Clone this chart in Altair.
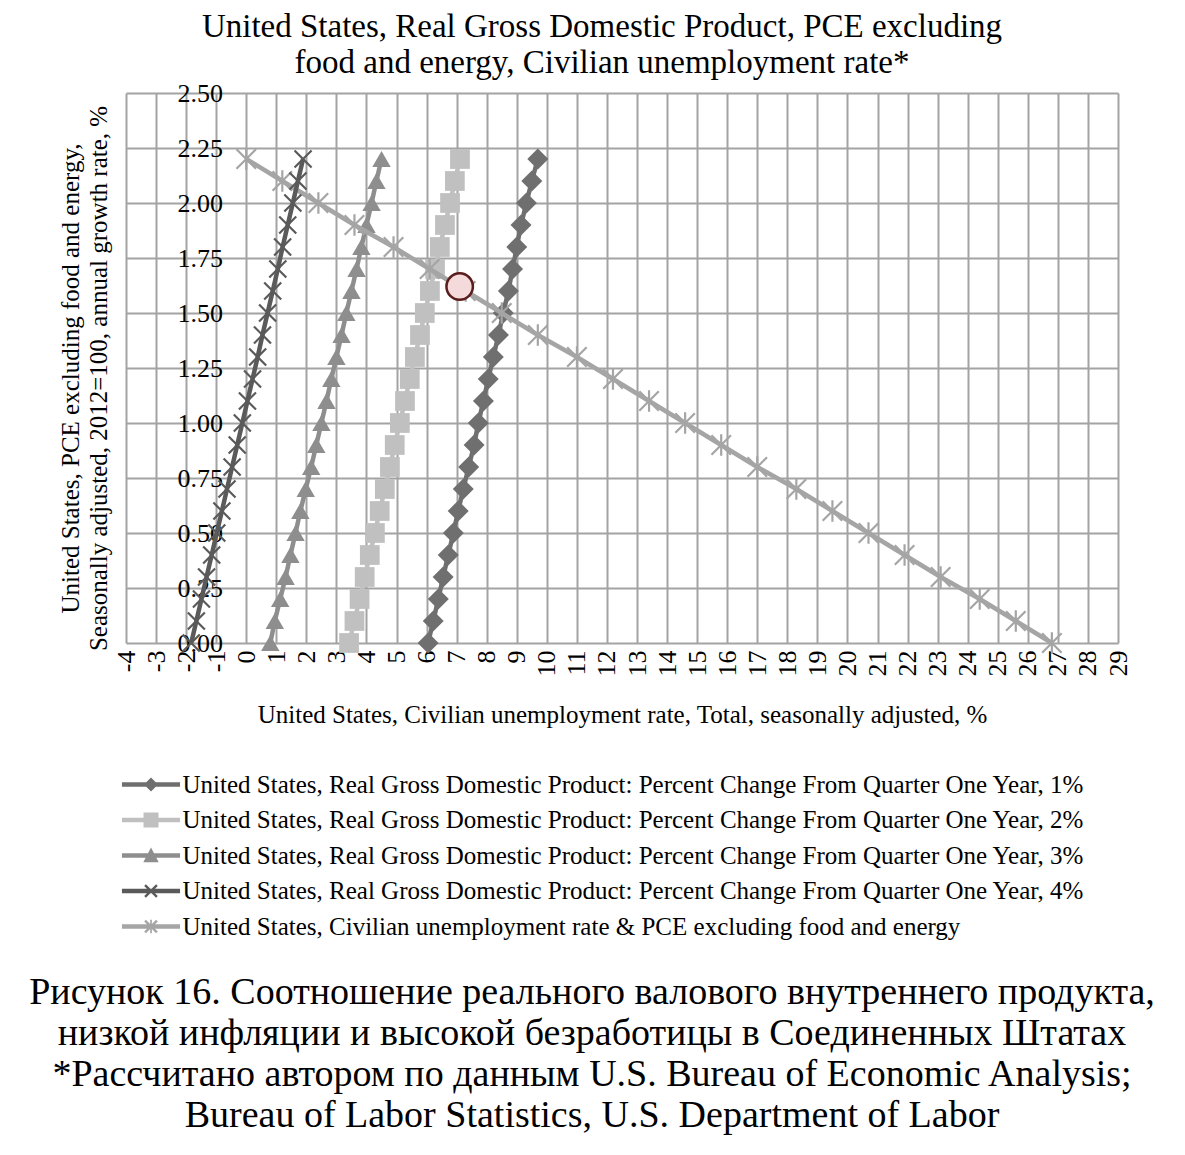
import altair as alt
import pandas as pd

# ---------------- data ----------------
Y_LEVELS = [0.0, 0.1, 0.2, 0.3, 0.4, 0.5, 0.6, 0.7, 0.8, 0.9, 1.0, 1.1,
            1.2, 1.3, 1.4, 1.5, 1.6, 1.7, 1.8, 1.9, 2.0, 2.1, 2.2]

GDP_1 = [6.05, 6.22, 6.39, 6.55, 6.72, 6.89, 7.05, 7.22, 7.40, 7.58, 7.72, 7.89,
         8.05, 8.22, 8.39, 8.55, 8.72, 8.86, 9.00, 9.14, 9.32, 9.50, 9.70]
GDP_2 = [3.42, 3.60, 3.77, 3.94, 4.11, 4.28, 4.44, 4.61, 4.78, 4.94, 5.11, 5.28,
         5.44, 5.61, 5.78, 5.94, 6.11, 6.28, 6.44, 6.61, 6.78, 6.94, 7.11]
GDP_3 = [0.80, 0.95, 1.13, 1.31, 1.47, 1.64, 1.80, 1.98, 2.16, 2.33, 2.50, 2.67,
         2.83, 3.00, 3.17, 3.33, 3.50, 3.67, 3.83, 4.00, 4.17, 4.33, 4.50]
GDP_4 = [-1.83, -1.66, -1.49, -1.32, -1.15, -0.98, -0.81, -0.64, -0.47, -0.30, -0.13, 0.04,
         0.21, 0.38, 0.54, 0.71, 0.88, 1.05, 1.21, 1.38, 1.55, 1.72, 1.89]
CIVILIAN = [26.8, 25.6, 24.4, 23.1, 21.9, 20.7, 19.5, 18.3, 17.0, 15.8, 14.6, 13.4,
            12.2, 11.0, 9.7, 8.5, 7.3, 6.1, 4.9, 3.6, 2.4, 1.2, 0.0]

MARK_X = [7.1]
MARK_Y = [1.62]

SERIES = [
    "United States, Real Gross Domestic Product: Percent Change From Quarter One Year, 1%",
    "United States, Real Gross Domestic Product: Percent Change From Quarter One Year, 2%",
    "United States, Real Gross Domestic Product: Percent Change From Quarter One Year, 3%",
    "United States, Real Gross Domestic Product: Percent Change From Quarter One Year, 4%",
    "United States, Civilian unemployment rate & PCE excluding food and energy",
]
COLORS = ["#6f6f6f", "#c0c0c0", "#8e8e8e", "#5a5a5a", "#a5a5a5"]

X_TICKS = list(range(-4, 30))
Y_TICKS = [0.0, 0.25, 0.5, 0.75, 1.0, 1.25, 1.5, 1.75, 2.0, 2.25, 2.5]

TITLE_LINES = ["United States, Real Gross Domestic Product, PCE excluding",
               "food and energy, Civilian unemployment rate*"]
X_TITLE = "United States, Civilian unemployment rate, Total, seasonally adjusted, %"
Y_TITLE = ["United States, PCE excluding food and energy,",
           "Seasonally adjusted, 2012=100, annual growth rate, %"]
CAPTION_LINES = [
    "Рисунок 16. Соотношение реального валового внутреннего продукта,",
    "низкой инфляции и высокой безработицы в Соединенных Штатах",
    "*Рассчитано автором по данным U.S. Bureau of Economic Analysis;",
    "Bureau of Labor Statistics, U.S. Department of Labor",
]

FONT = "Liberation Serif"

# ---------------- legend symbol paths (line + marker) ----------------
LINE = "M-4.15,-0.33L4.15,-0.33L4.15,0.33L-4.15,0.33Z"
XPATH = ("M-0.97,-0.73L-0.73,-0.97L0.97,0.73L0.73,0.97Z"
         "M-0.73,0.97L-0.97,0.73L0.73,-0.97L0.97,-0.73Z")
LEGEND_PATHS = [
    LINE + "M0,-1L1,0L0,1L-1,0Z",
    LINE + "M-1.07,-1.07L1.07,-1.07L1.07,1.07L-1.07,1.07Z",
    LINE + "M0,-1.15L1.1,0.95L-1.1,0.95Z",
    LINE + XPATH,
    LINE + XPATH + "M-0.12,-0.95L0.12,-0.95L0.12,0.95L-0.12,0.95Z",
]

X_MARK_SHAPE = "M-1,-1L1,1M-1,1L1,-1"
STAR_SHAPE = "M-1,-1L1,1M-1,1L1,-1M0,-1.1L0,1.1"


def frame(xs, name):
    return pd.DataFrame({"u": xs, "p": Y_LEVELS, "series": name})


d1 = frame(GDP_1, SERIES[0])
d2 = frame(GDP_2, SERIES[1])
d3 = frame(GDP_3, SERIES[2])
d4 = frame(GDP_4, SERIES[3])
d5 = frame(CIVILIAN, SERIES[4])
legend_df = pd.concat([d.iloc[[0]] for d in (d1, d2, d3, d4, d5)], ignore_index=True)
mark_df = pd.DataFrame({"u": MARK_X, "p": MARK_Y})
caption_df = pd.DataFrame({"caption": ["\n".join(CAPTION_LINES)]})

# ---------------- scales / axes ----------------
x_scale = alt.Scale(domain=[-4, 29], nice=False, zero=False)
y_scale = alt.Scale(domain=[0, 2.5], nice=False, zero=False)

x_axis = alt.Axis(
    values=X_TICKS, title=X_TITLE, grid=True, gridColor="#a3a3a3", gridWidth=2,
    domain=False, ticks=False, labelFont=FONT, labelFontSize=26, labelColor="black",
    labelAngle=270, labelAlign="right", labelBaseline="middle", labelPadding=7,
    labelFlush=False, labelOverlap=False, labelExpr="datum.value + ''",
    titleFont=FONT, titleFontSize=25, titleFontWeight="normal", titleColor="black",
    titlePadding=26,
)
y_axis = alt.Axis(
    values=Y_TICKS, format=".2f", title=Y_TITLE, grid=True, gridColor="#a3a3a3",
    gridWidth=2, domain=False, ticks=False, offset=-96.4, labelPadding=0,
    labelFont=FONT, labelFontSize=26, labelColor="black", labelFlush=False,
    labelOverlap=False,
    titleFont=FONT, titleFontSize=25, titleFontWeight="normal", titleColor="black",
    titleAngle=270, titleAlign="center", titleBaseline="middle", titleLineHeight=28,
    titleX=-152, titleY=285,
)

X = alt.X("u:Q", scale=x_scale, axis=x_axis)
Y = alt.Y("p:Q", scale=y_scale, axis=y_axis)


def line(df, color):
    return alt.Chart(df).mark_line(color=color, strokeWidth=4.5).encode(x=X, y=Y, order="p:Q")


def filled_pts(df, color, shape, size):
    return alt.Chart(df).mark_point(
        shape=shape, filled=True, color=color, size=size, opacity=1, strokeWidth=0
    ).encode(x=X, y=Y)


def stroked_pts(df, color, shape, size):
    return alt.Chart(df).mark_point(
        shape=shape, filled=False, color=color, size=size, opacity=1, strokeWidth=2.2
    ).encode(x=X, y=Y)


layers = [
    line(d1, COLORS[0]), filled_pts(d1, COLORS[0], "diamond", 440),
    line(d2, COLORS[1]), filled_pts(d2, COLORS[1], "square", 390),
    line(d3, COLORS[2]), filled_pts(d3, COLORS[2], "triangle-up", 340),
    line(d5, COLORS[4]), stroked_pts(d5, COLORS[4], STAR_SHAPE, 380),
    line(d4, COLORS[3]), stroked_pts(d4, COLORS[3], X_MARK_SHAPE, 290),
]

highlight = alt.Chart(mark_df).mark_point(
    shape="circle", filled=True, fill="#f4dada", stroke="#5a1c1c", strokeWidth=2.5,
    size=700, opacity=1
).encode(x=X, y=Y)

legend = alt.Legend(
    orient="none", legendX=12.5, legendY=679, direction="vertical",
    symbolSize=196, symbolOpacity=1, symbolStrokeWidth=0,
    labelFont=FONT, labelFontSize=25, labelColor="black", labelLimit=1200,
    labelOffset=19, rowPadding=9.5, padding=0,
)
legend_layer = alt.Chart(legend_df).mark_point(filled=True, opacity=0, size=196).encode(
    x=X, y=Y,
    color=alt.Color("series:N", scale=alt.Scale(domain=SERIES, range=COLORS),
                    legend=legend, title=None),
    shape=alt.Shape("series:N", scale=alt.Scale(domain=SERIES, range=LEGEND_PATHS),
                    legend=legend, title=None),
)

caption = alt.Chart(caption_df).mark_text(
    font=FONT, fontSize=38, color="black", align="center", baseline="top",
    lineBreak="\n", lineHeight=41
).encode(text="caption:N", x=alt.value(466), y=alt.value(881))

chart = alt.layer(*layers, highlight, legend_layer, caption).properties(
    width=992,
    height=550,
    title=alt.TitleParams(
        text=TITLE_LINES, font=FONT, fontSize=33, fontWeight="normal", color="black",
        anchor="middle", frame="group", dx=-20, lineHeight=36, offset=0,
    ),
    autosize=alt.AutoSizeParams(type="none"),
    padding={"left": 118, "top": 85, "right": 55, "bottom": 495},
    background="white",
).configure_view(stroke="transparent")

chart.save("out.html", embed_options={"renderer": "svg", "actions": False})
